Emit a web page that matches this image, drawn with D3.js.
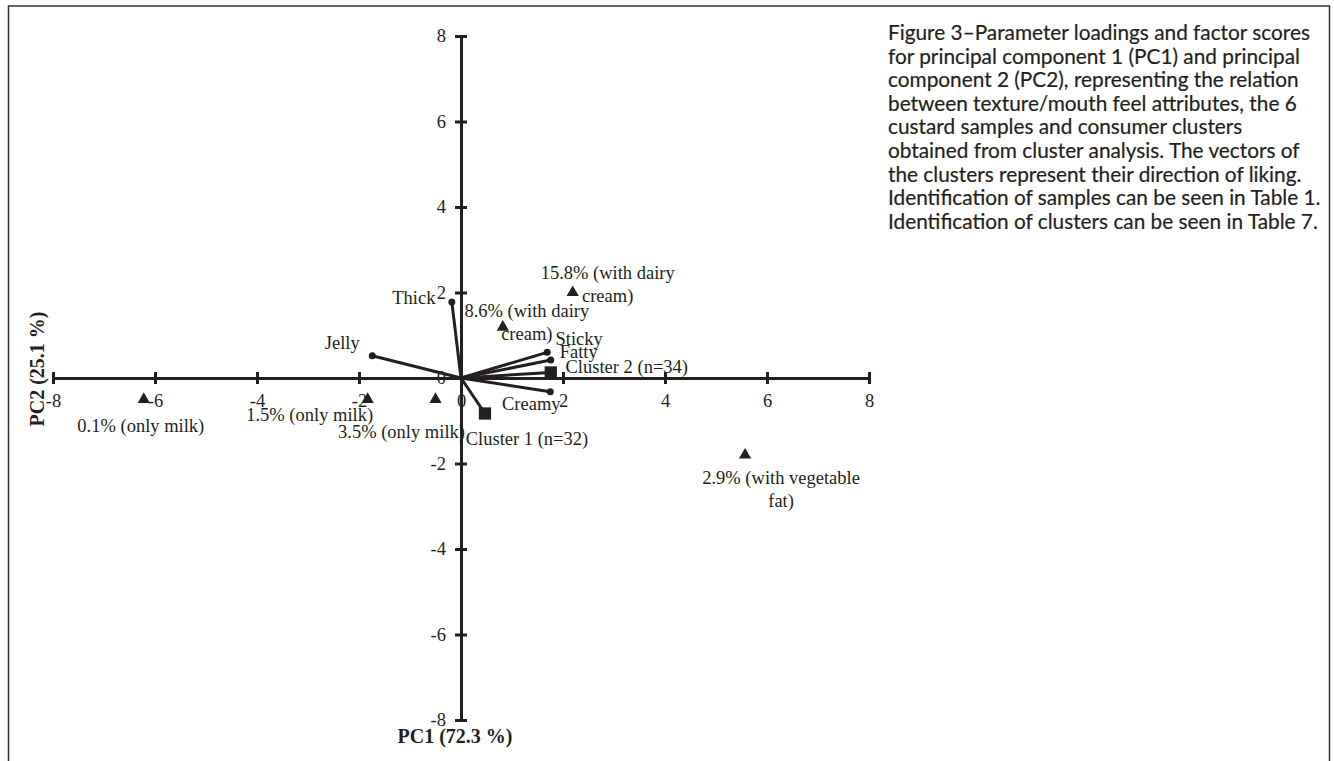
<!DOCTYPE html>
<html>
<head>
<meta charset="utf-8">
<script src="https://cdn.jsdelivr.net/npm/d3@7"></script>
<style>
    body { margin: 0; background: #ffffff; }
    .graph text { font-family: "Liberation Serif", "Times New Roman", serif; font-size: 18.5px; fill: #231f20; }
    .graph text.axis_title { font-weight: bold; font-size: 20px; }
    .graph text.caption { font-family: Lato, "Noto Sans", sans-serif; font-size: 20.8px; stroke: #231f20; stroke-width: 0.2px; }
</style>
</head>
<body>
<script>
// texture / mouth feel attributes (loadings)
var attributes = ["Thick", "Jelly", "Sticky", "Fatty", "Creamy"];
var attribute_pc1 = [-0.18, -1.74, 1.69, 1.76, 1.75];
var attribute_pc2 = [1.78, 0.52, 0.60, 0.42, -0.32];

// consumer clusters (direction of liking)
var clusters = ["Cluster 1 (n=32)", "Cluster 2 (n=34)"];
var cluster_pc1 = [0.47, 1.76];
var cluster_pc2 = [-0.83, 0.13];

// custard samples (factor scores)
var samples = [
    ["0.1% (only milk)"],
    ["1.5% (only milk)"],
    ["3.5% (only milk)"],
    ["8.6% (with dairy", "cream)"],
    ["15.8% (with dairy", "cream)"],
    ["2.9% (with vegetable", "fat)"]
];
var sample_pc1 = [-6.22, -1.83, -0.50, 0.82, 2.19, 5.57];
var sample_pc2 = [-0.50, -0.50, -0.50, 1.19, 2.00, -1.80];

var tick_values = [-8, -6, -4, -2, 0, 2, 4, 6, 8];
var x_title = "PC1 (72.3 %)";
var y_title = "PC2 (25.1 %)";

var caption_lines = [
    "Figure 3\u2013Parameter loadings and factor scores",
    "for principal component 1 (PC1) and principal",
    "component 2 (PC2), representing the relation",
    "between texture/mouth feel attributes, the 6",
    "custard samples and consumer clusters",
    "obtained from cluster analysis. The vectors of",
    "the clusters represent their direction of liking.",
    "Identification of samples can be seen in Table 1.",
    "Identification of clusters can be seen in Table 7."
];

// where each label sits relative to its marker (px)
var label_nudge = {
    "Thick": [-38, -4], "Jelly": [-30, -13], "Sticky": [32, -14],
    "Fatty": [28, -9], "Creamy": [-19, 12],
    "Cluster 1 (n=32)": [42, 25], "Cluster 2 (n=34)": [76, -6],
    "0.1% (only milk)": [-3, 26], "1.5% (only milk)": [-58, 15],
    "3.5% (only milk)": [-34, 32], "8.6% (with dairy": [24, -17],
    "15.8% (with dairy": [35, -20], "2.9% (with vegetable": [36, 23]
};

var ink = "#231f20";

class Biplot {

    constructor(name = 'biplot', container = 'body', width = 1334, height = 761) {
	this.name = name;
	this.width = width;
	this.height = height;
	this.svg = d3.select(container).append("svg")
		.attr("width", width)
		.attr("height", height)
		.attr("class", "graph")
		.attr("id", name);

	this.h_scale = d3.scaleLinear().domain([-8, 8]).range([53, 869]);
	this.v_scale = d3.scaleLinear().domain([-8, 8]).range([720, 36]);
	this.line_height = 23;
    }

    draw() {
	this.add_frame();
	this.add_horizontal_axis();
	this.add_vertical_axis();
	this.add_titles();

	var self = this;
	attributes.forEach(function (item, i) {
	    self.add_vector(attribute_pc1[i], attribute_pc2[i]);
	});
	clusters.forEach(function (item, i) {
	    self.add_vector(cluster_pc1[i], cluster_pc2[i]);
	});

	attributes.forEach(function (item, i) {
	    self.svg.append("circle")
		    .attr("cx", self.h_scale(attribute_pc1[i]))
		    .attr("cy", self.v_scale(attribute_pc2[i]))
		    .attr("r", 3.5)
		    .style("fill", ink);
	    self.add_label([item], attribute_pc1[i], attribute_pc2[i]);
	});

	var square = d3.symbol().type(d3.symbolSquare).size(150);
	clusters.forEach(function (item, i) {
	    self.svg.append("path")
		    .attr("d", square)
		    .attr("transform", "translate(" + self.h_scale(cluster_pc1[i]) + "," + self.v_scale(cluster_pc2[i]) + ")")
		    .style("fill", ink);
	    self.add_label([item], cluster_pc1[i], cluster_pc2[i]);
	});

	var triangle = d3.symbol().type(d3.symbolTriangle).size(65);
	samples.forEach(function (lines, i) {
	    self.svg.append("path")
		    .attr("d", triangle)
		    .attr("transform", "translate(" + self.h_scale(sample_pc1[i]) + "," + self.v_scale(sample_pc2[i]) + ")")
		    .style("fill", ink);
	    self.add_label(lines, sample_pc1[i], sample_pc2[i]);
	});

	this.add_caption();
    }

    add_frame() {
	this.svg.append("rect")
		.attr("x", 8.5)
		.attr("y", 6)
		.attr("width", 1321)
		.attr("height", 800)
		.style("fill", "none")
		.style("stroke", "#333333")
		.style("stroke-width", 1.5);
    }

    add_horizontal_axis() {
	var axis = d3.axisBottom(this.h_scale)
		.tickValues(tick_values)
		.tickFormat(d => String(d))
		.tickSizeOuter(0);
	var g = this.svg.append("g")
		.attr("transform", "translate(0," + this.v_scale(0) + ")")
		.attr("color", ink)
		.call(axis);
	g.select(".domain").attr("stroke-width", 3);
	g.selectAll(".tick line").attr("y1", -6).attr("y2", 6).attr("stroke-width", 3);
	g.selectAll(".tick text").attr("y", 16);
    }

    add_vertical_axis() {
	var axis = d3.axisLeft(this.v_scale)
		.tickValues(tick_values)
		.tickFormat(d => String(d))
		.tickSizeOuter(0);
	var g = this.svg.append("g")
		.attr("transform", "translate(" + this.h_scale(0) + ",0)")
		.attr("color", ink)
		.call(axis);
	g.select(".domain").attr("stroke-width", 3);
	g.selectAll(".tick line").attr("x1", -6).attr("x2", 6).attr("stroke-width", 3);
	g.selectAll(".tick text").attr("x", -15);
    }

    add_titles() {
	this.svg.append("text")
		.attr("class", "axis_title")
		.attr("x", 455)
		.attr("y", 743)
		.attr("text-anchor", "middle")
		.text(x_title);
	this.svg.append("text")
		.attr("class", "axis_title")
		.attr("transform", "translate(44,369) rotate(-90)")
		.attr("text-anchor", "middle")
		.text(y_title);
    }

    add_vector(pc1, pc2) {
	this.svg.append("line")
		.attr("x1", this.h_scale(0))
		.attr("y1", this.v_scale(0))
		.attr("x2", this.h_scale(pc1))
		.attr("y2", this.v_scale(pc2))
		.style("stroke", ink)
		.style("stroke-width", 3);
    }

    add_label(lines, pc1, pc2) {
	var nudge = label_nudge[lines[0]];
	var cx = this.h_scale(pc1) + nudge[0];
	var cy = this.v_scale(pc2) + nudge[1];
	var text = this.svg.append("text")
		.attr("text-anchor", "middle");
	var lh = this.line_height;
	lines.forEach(function (line, i) {
	    text.append("tspan")
		    .attr("x", cx)
		    .attr("y", cy + i * lh)
		    .attr("dy", "0.35em")
		    .text(line);
	});
    }

    add_caption() {
	var text = this.svg.append("text")
		.attr("class", "caption");
	caption_lines.forEach(function (line, i) {
	    text.append("tspan")
		    .attr("x", 888)
		    .attr("y", 40 + i * 23.6)
		    .text(line);
	});
    }
}

var plot = new Biplot('pca_biplot', 'body', 1334, 761);
plot.draw();
</script>
</body>
</html>
